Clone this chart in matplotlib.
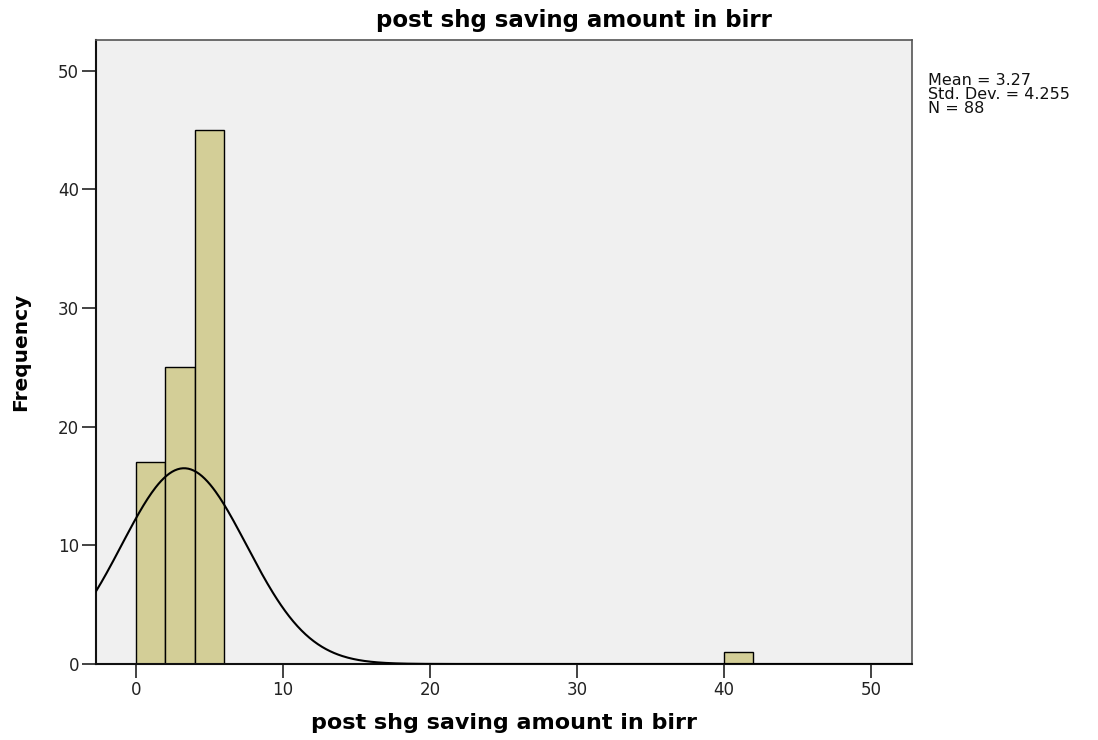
import numpy as np
import matplotlib
matplotlib.use("Agg")
import matplotlib.pyplot as plt
from matplotlib import font_manager

# Histogram bins (left edges, width 2) and frequencies
bin_left = [0, 2, 4, 40]
bin_width = 2
counts = [17, 25, 45, 1]

# Summary statistics shown next to the plot
mean_val = 3.27
std_val = 4.255
n_val = 88

x_ticks = [0, 10, 20, 30, 40, 50]
y_ticks = [0, 10, 20, 30, 40, 50]

title_text = "post shg saving amount in birr"
xlabel_text = "post shg saving amount in birr"
ylabel_text = "Frequency"

names = {f.name for f in font_manager.fontManager.ttflist}
narrow = "Liberation Sans Narrow" if "Liberation Sans Narrow" in names else "DejaVu Sans"

plt.rcParams["font.family"] = ["DejaVu Sans"]

fig = plt.figure(figsize=(10.98, 7.40), dpi=100)
fig.patch.set_facecolor("white")
ax = fig.add_axes([95.7 / 1098, 1 - 664 / 740, (912 - 95.7) / 1098, (664 - 40) / 740])
ax.set_facecolor("#F0F0F0")

ax.bar(bin_left, counts, width=bin_width, align="edge",
       color="#D3CE97", edgecolor="black", linewidth=1.0, zorder=2)

# Fitted normal curve scaled to counts per bin
xs = np.linspace(-2.74, 52.8, 600)
pdf = np.exp(-0.5 * ((xs - mean_val) / std_val) ** 2) / (std_val * np.sqrt(2 * np.pi))
ax.plot(xs, pdf * n_val * bin_width, color="black", linewidth=1.5, zorder=3)

ax.set_xlim(-2.74, 52.8)
ax.set_ylim(0, 52.6)
ax.set_xticks(x_ticks)
ax.set_yticks(y_ticks)
ax.tick_params(direction="out", length=10, width=1.2, color="#222222",
               labelsize=12, labelcolor="#222222", pad=2)
for side in ["left", "bottom"]:
    ax.spines[side].set_color("#111111")
    ax.spines[side].set_linewidth(1.5)
for side in ["top", "right"]:
    ax.spines[side].set_color("#555555")
    ax.spines[side].set_linewidth(1.2)

ax.set_xlabel(xlabel_text, fontsize=16, fontweight="bold", labelpad=10)
ax.set_ylabel(ylabel_text, fontsize=14.5, fontweight="bold", family=narrow, labelpad=20)

fig.text(574 / 1098, 1 - 20 / 740, title_text, ha="center", va="center",
         fontsize=16.5, fontweight="bold")

fig.text(928 / 1098, 1 - 73 / 740,
         f"Mean = {mean_val}\nStd. Dev. = {std_val}\nN = {n_val}",
         ha="left", va="top", fontsize=11.5, family="DejaVu Sans",
         linespacing=0.92, color="#111111")

fig.savefig("out.png", dpi=100)
